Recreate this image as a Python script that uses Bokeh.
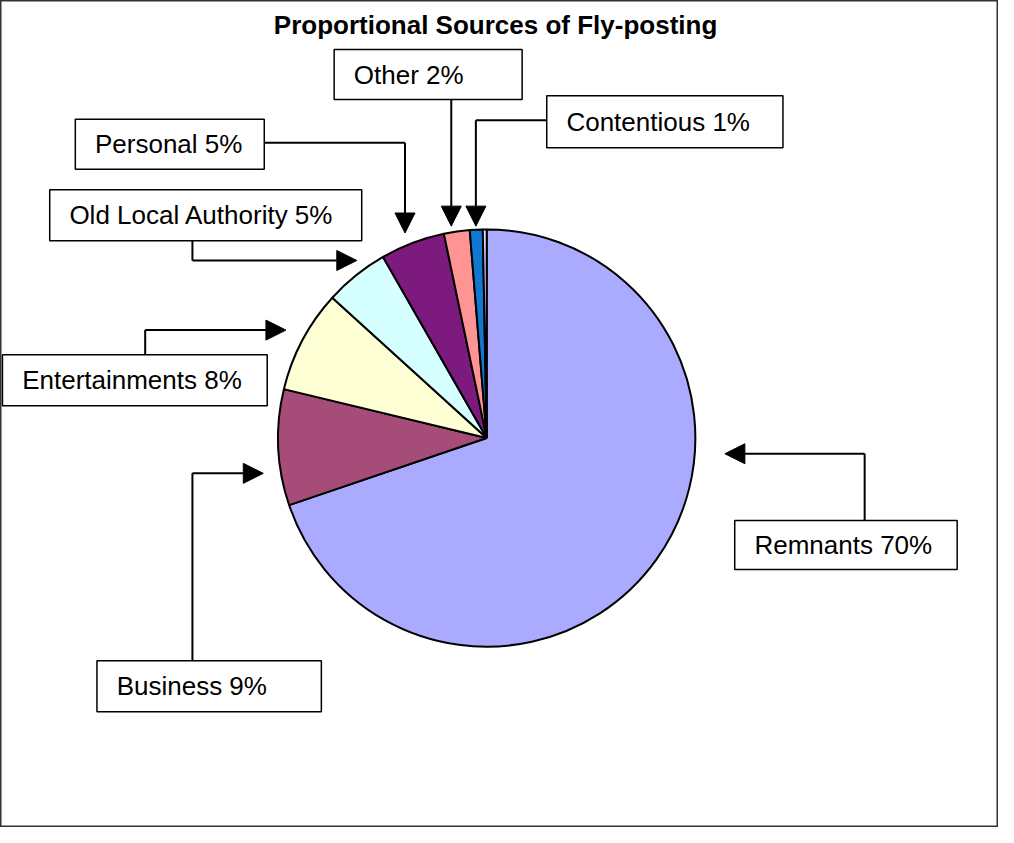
import numpy as np
from bokeh.plotting import figure
from bokeh.models import Range1d, Arrow, NormalHead, ColumnDataSource
from bokeh.core.properties import value
from bokeh.embed import file_html
from bokeh.resources import INLINE

# ---- data ----
categories = ["Remnants", "Business", "Entertainments", "Old Local Authority",
              "Personal", "Other", "Contentious", "Unlabelled"]
percentages = [70, 9, 8, 5, 5, 2, 1, 0.3]
colors = ["#AAAAFF", "#A64C79", "#FFFFD6", "#D6FFFF", "#7D1A7D", "#FF9494", "#1177D0", "#DDDDFF"]
title_text = "Proportional Sources of Fly-posting"

# ---- layout (reference pixel coordinates) ----
W_REF, H_REF = 1014, 843
CX, CY, R = 494, 446, 212
FONT = "Liberation Sans"

# box: (left, top, right, bottom); path: connector points, last one is arrow tip
label_layout = {
    "Remnants":            dict(box=(746, 530, 972, 580), path=[(878, 530), (878, 462), (736, 462)]),
    "Business":            dict(box=(98, 673, 326, 725), path=[(195, 673), (195, 482), (267, 482)]),
    "Entertainments":      dict(box=(2, 361, 271, 413), path=[(147, 361), (147, 336), (290, 336)]),
    "Old Local Authority": dict(box=(50, 193, 367, 245), path=[(195, 245), (195, 265), (362, 265)]),
    "Personal":            dict(box=(76, 121, 268, 172), path=[(268, 145), (411, 145), (411, 237)]),
    "Other":               dict(box=(339, 50, 530, 101), path=[(458, 101), (458, 230)]),
    "Contentious":         dict(box=(555, 97, 795, 150), path=[(555, 122), (483, 122), (483, 230)]),
}

def fy(py):
    return H_REF - py

p = figure(width=998, height=827, output_backend="svg", toolbar_location=None,
           x_range=Range1d(0, W_REF), y_range=Range1d(0, H_REF), min_border=0)
p.axis.visible = False
p.grid.visible = False
p.outline_line_color = "#333333"
p.outline_line_width = 2
p.background_fill_color = "white"
p.border_fill_color = "white"

# ---- pie ----
vals = np.array(percentages, dtype=float)
total = vals.sum()
cum_after = np.cumsum(vals)
cum_before = cum_after - vals
start = np.pi / 2 - 2 * np.pi * cum_after / total
end = np.pi / 2 - 2 * np.pi * cum_before / total
src = ColumnDataSource(dict(start=start, end=end, color=colors, cat=categories))
p.wedge(x=CX, y=fy(CY), radius=R, start_angle="start", end_angle="end",
        direction="anticlock", fill_color="color", line_color="black",
        line_width=2, source=src)

# ---- title ----
p.text(x=[503], y=[fy(25)], text=[title_text], text_font=value(FONT),
       text_font_style="bold", text_font_size="26px", text_align="center",
       text_baseline="middle", text_color="black")

# ---- labels ----
for cat, pct in zip(categories, percentages):
    if cat not in label_layout:
        continue
    lay = label_layout[cat]
    l, t, r, b = lay["box"]
    path = lay["path"]
    xs = [pt[0] for pt in path]
    ys = [fy(pt[1]) for pt in path]
    if len(path) > 2:
        p.line(x=xs[:-1], y=ys[:-1], line_color="black", line_width=2)
    p.add_layout(Arrow(end=NormalHead(size=20, fill_color="black", line_color="black"),
                       x_start=xs[-2], y_start=ys[-2], x_end=xs[-1], y_end=ys[-1],
                       line_color="black", line_width=2))
    p.quad(left=[l], right=[r], top=[fy(t)], bottom=[fy(b)], fill_color="white",
           line_color="black", line_width=1.5)
    p.text(x=[l + 20], y=[fy((t + b) / 2)], text=[f"{cat} {round(pct)}%"],
           text_font=value(FONT), text_font_size="26px", text_align="left",
           text_baseline="middle", text_color="black")

open("out.html", "w").write(file_html(p, INLINE))
